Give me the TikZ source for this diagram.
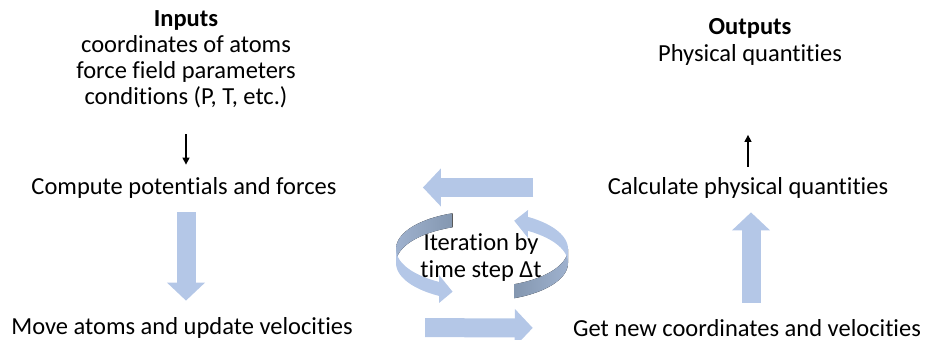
\documentclass[tikz,border=0pt]{standalone}
\usepackage{fontspec}
\setmainfont{Carlito}[Ligatures = NoCommon]
\usepackage{xcolor}
\usepackage{tikz}
\usetikzlibrary{arrows.meta}

\definecolor{fatblue}{HTML}{B4C7E7}
\definecolor{loopdark}{HTML}{8497B0}

\begin{document}
\begin{tikzpicture}[every text node part/.style={align=center}, x = 0.5pt, y = -0.5pt]
			\tikzstyle{txt} = [inner sep = 0pt, font = \fontsize{12.25}{13.5}\selectfont]
			\tikzstyle{block} = [txt, font = \fontsize{12.25}{13}\selectfont]
			\tikzstyle{thin} = [draw, line width = 0.65pt, -{Triangle[length = 3.5pt, width = 3.5pt]}]
			\tikzstyle{fat} = [draw = fatblue, line width = 9.5pt, -{Triangle[length = 9pt, width = 18.5pt]}]
			\useasboundingbox (0, 0) rectangle (925, 340);

			% the loop round the iteration text
			\fill[left color = loopdark!45!fatblue, right color = loopdark] plot[domain = 250:180, samples = 25] ({482 + 86*cos(\x)}, {249 + 38*sin(\x)}) -- plot[domain = 180:250, samples = 25] ({482 + 86*cos(\x)}, {263 + 38*sin(\x)}) -- cycle;
			\fill[fatblue] plot[domain = 180:120, samples = 25] ({482 + 86*cos(\x)}, {249 + 38*sin(\x)}) -- (439, 275) -- ({482 + 86*cos(110)}, {256 + 38*sin(110)}) -- (439, 303) -- plot[domain = 120:180, samples = 25] ({482 + 86*cos(\x)}, {263 + 38*sin(\x)}) -- cycle;
			\fill[left color = loopdark, right color = loopdark!45!fatblue] plot[domain = 68:0, samples = 25] ({482 + 86*cos(\x)}, {249 + 38*sin(\x)}) -- plot[domain = 0:68, samples = 25] ({482 + 86*cos(\x)}, {263 + 38*sin(\x)}) -- cycle;
			\fill[fatblue] plot[domain = 0:-57.7, samples = 25] ({482 + 86*cos(\x)}, {249 + 38*sin(\x)}) -- (528, 210) -- ({482 + 86*cos(-68)}, {256 + 38*sin(-68)}) -- (528, 238) -- plot[domain = -57.7:0, samples = 25] ({482 + 86*cos(\x)}, {263 + 38*sin(\x)}) -- cycle;

			\path (186, 59) node[block] (inputs) {\textbf{Inputs}\\coordinates of atoms\\force field parameters\\conditions (P, T, etc.)};
			\path (750, 42) node[txt] (outputs) {\textbf{Outputs}\\Physical quantities};
			\path (184, 187.5) node[txt] (compute) {Compute potentials and forces};
			\path (748, 187.5) node[txt] (calc) {Calculate physical quantities};
			\path (182, 327.5) node[txt] (move) {Move atoms and update velocities};
			\path (747, 328) node[txt] (getnew) {Get new coordinates and velocities};
			\path (481, 257) node[txt] (iter) {Iteration by\\time step Δt};

			\path[thin, shorten <= 13pt, shorten >= 6pt] (inputs.south) -- (inputs.south |- compute.north);
			\path[thin, shorten <= 5pt, shorten >= 34.5pt] (calc.north) -- (calc.north |- outputs.south);

			\path[fat, shorten <= 7pt, shorten >= 8pt] ([xshift = 1pt]compute.south) -- ([xshift = 1pt]compute.south |- move.north);
			\path[fat, shorten <= 37pt, shorten >= 43pt] (calc.west) -- (compute.east);
			\path[fat, shorten <= 36pt, shorten >= 20pt] (move.east) -- (getnew.west);
			\path[fat, shorten <= 8pt, shorten >= 7pt] ([xshift = 2pt]getnew.north) -- ([xshift = 2pt]getnew.north |- calc.south);
		\end{tikzpicture}
\end{document}
